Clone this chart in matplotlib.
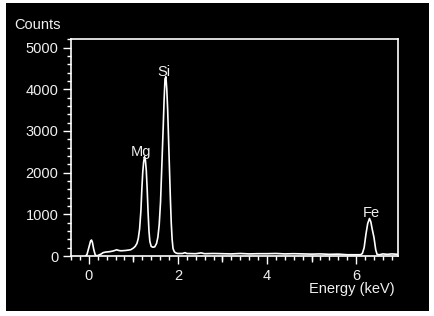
import matplotlib.pyplot as plt
from matplotlib.patches import Rectangle
from matplotlib.ticker import MultipleLocator

# ---------- spectrum ----------
energy = [-0.07, -0.04, 0.00, 0.04, 0.06, 0.08, 0.11, 0.14, 0.17, 0.20,
          0.24, 0.28, 0.32, 0.38, 0.44, 0.50, 0.56, 0.60, 0.63, 0.66,
          0.72, 0.80, 0.88, 0.94, 1.00, 1.04, 1.08, 1.11, 1.14, 1.17,
          1.19, 1.21, 1.23, 1.25, 1.27, 1.29, 1.31, 1.33, 1.35, 1.37,
          1.40, 1.44, 1.48, 1.52, 1.55, 1.58, 1.61, 1.64, 1.67, 1.69,
          1.71, 1.73, 1.75, 1.77, 1.79, 1.81, 1.83, 1.85, 1.87, 1.89,
          1.92, 1.96, 2.00, 2.10, 2.16, 2.20, 2.40, 2.52, 2.60, 2.80,
          3.00, 3.20, 3.40, 3.60, 3.80, 4.00, 4.20, 4.40, 4.60, 4.80,
          5.00, 5.20, 5.40, 5.60, 5.80, 6.00, 6.10, 6.14, 6.18, 6.22,
          6.26, 6.30, 6.33, 6.36, 6.40, 6.44, 6.47, 6.52, 6.60, 6.70,
          6.80, 6.94]
counts = [0, 40, 200, 360, 384, 330, 160, 40, 0, 10,
          30, 50, 80, 95, 100, 110, 125, 140, 150, 135,
          125, 130, 140, 150, 190, 230, 300, 420, 650, 1100,
          1600, 2000, 2250, 2380, 2300, 2050, 1600, 1050, 600, 350,
          230, 210, 220, 300, 450, 750, 1300, 2200, 3100, 3750,
          4250, 4300, 4000, 3500, 2800, 2100, 1400, 800, 400, 180,
          100, 70, 60, 60, 80, 60, 55, 75, 55, 60,
          55, 50, 60, 50, 55, 55, 60, 50, 55, 50,
          45, 50, 40, 45, 30, 30, 30, 60, 200, 520,
          780, 900, 820, 650, 450, 150, 40, 30, 50, 40,
          50, 40]

peak_names = ["Mg", "Si", "Fe"]
peak_x = [1.18, 1.69, 6.33]
peak_y = [2500, 4420, 1040]

plt.rcParams['font.family'] = ['Liberation Sans', 'DejaVu Sans']
fs = 10.5

fig = plt.figure(figsize=(4.34, 3.16), dpi=100, facecolor="white")
fig.patches.append(Rectangle((6/434, 5/316), 423/434, 308/316,
                             transform=fig.transFigure, facecolor="black",
                             edgecolor="none", zorder=-10))
ax = fig.add_axes([71/434, 60/316, 327/434, 217.5/316])
ax.set_facecolor("black")

ax.plot(energy, counts, color="white", lw=1.2)
for name, x, y in zip(peak_names, peak_x, peak_y):
    ax.text(x, y, name, color="#f0f0f0", fontsize=fs, ha="center", va="center")

ax.set_xlim(-0.40, 6.94)
ax.set_ylim(0, 5216)
ax.set_xticks([0, 2, 4, 6])
ax.set_yticks([0, 1000, 2000, 3000, 4000, 5000])
ax.xaxis.set_minor_locator(MultipleLocator(0.2))
ax.yaxis.set_minor_locator(MultipleLocator(200))
ax.tick_params(colors="white", labelcolor="#f0f0f0", labelsize=fs, width=1)
ax.tick_params(axis="x", which="major", length=6, pad=3.5)
ax.tick_params(axis="y", which="major", length=6, pad=3)
ax.tick_params(which="minor", length=3, width=1, colors="white")
for s in ax.spines.values():
    s.set_color("white")
    s.set_linewidth(1.2)

# medium ticks at odd keV
ax2 = ax.twiny()
ax2.set_xlim(ax.get_xlim())
ax2.xaxis.tick_bottom()
ax2.set_xticks([1, 3, 5])
ax2.set_xticklabels([])
ax2.tick_params(axis="x", length=4.5, width=1, colors="white")
for s in ax2.spines.values():
    s.set_visible(False)

fig.text(14/434, 1 - 25/316, "Counts", color="#f0f0f0", fontsize=fs, va="center")
fig.text(395/434, 1 - 289/316, "Energy (keV)", color="#f0f0f0", fontsize=fs,
         ha="right", va="center")

fig.savefig("out.png", dpi=100, facecolor="white")
